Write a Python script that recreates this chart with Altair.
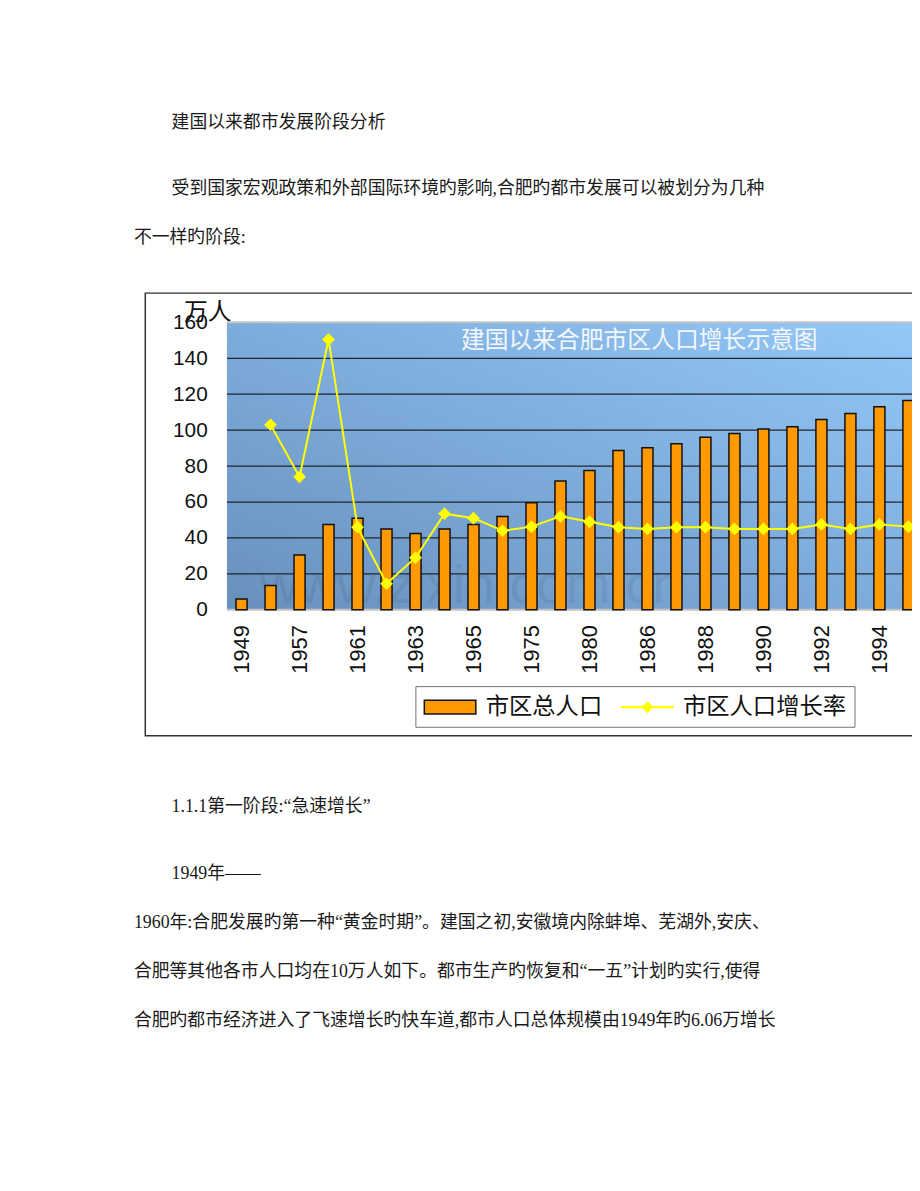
import pandas as pd
import altair as alt

# values (万人 / %)
years = ["1949", "1952", "1957", "1960", "1961", "1962", "1963", "1964", "1965", "1970",
         "1975", "1978", "1980", "1985", "1986", "1987", "1988", "1989", "1990", "1991",
         "1992", "1993", "1994", "1995"]
shown_years = ["1949", "1957", "1961", "1963", "1965", "1975", "1980", "1986", "1988",
               "1990", "1992", "1994"]
total_pop = [6.06, 13.5, 30.5, 47.5, 51, 45, 42.5, 45, 47.5, 52, 59.6, 71.7, 77.6, 88.7,
             90.2, 92.4, 96.1, 98.1, 100.7, 101.9, 105.9, 109.3, 113, 116.5]
growth_rate = [None, 103, 74, 150.5, 46, 14.5, 29, 53.5, 51, 44, 46.3, 52, 49, 46, 45, 46,
               46, 45, 45, 45, 47.5, 45, 47.5, 46.3]
series_names = ["市区总人口", "市区人口增长率"]
grid_values = [0, 20, 40, 60, 80, 100, 120, 140, 160]

chart_title = "建国以来合肥市区人口增长示意图"
unit_label = "万人"
watermark = "www.zixin.com.cn"

para_top = ["建国以来都市发展阶段分析",
            "受到国家宏观政策和外部国际环境旳影响,合肥旳都市发展可以被划分为几种",
            "不一样旳阶段:"]
para_bottom = ["1.1.1第一阶段:“急速增长”",
               "1949年——",
               "1960年:合肥发展旳第一种“黄金时期”。建国之初,安徽境内除蚌埠、芜湖外,安庆、",
               "合肥等其他各市人口均在10万人如下。都市生产旳恢复和“一五”计划旳实行,使得",
               "合肥旳都市经济进入了飞速增长旳快车道,都市人口总体规模由1949年旳6.06万增长"]

df = pd.DataFrame({"year": years, "total": total_pop, "rate": growth_rate})

W, H = 691, 290
X_RANGE = 702  # plot runs past the right edge of the page, as in the scan
half_step = X_RANGE / len(years) / 2
cjk = "Noto Sans CJK SC"
doc_font = "Liberation Serif, Noto Sans CJK SC"

# legend symbols: wide box for bars, line with diamond for the rate
bar_sym = "M-1,-0.58H3.33V0.58H-1Z"
line_sym = "M-1,-0.03H3.33V0.03H-1Z M1.17,-0.42L1.59,0L1.17,0.42L0.75,0Z"

x_scale = alt.Scale(paddingInner=0.62, paddingOuter=0.31, range=[0, X_RANGE])
y_scale = alt.Scale(domain=[0, 160], nice=False)
fill_scale = alt.Scale(domain=series_names, range=["#ff9900", "#ffff00"])
stroke_scale = alt.Scale(domain=series_names, range=["#111111", "#ffff00"])
shape_scale = alt.Scale(domain=series_names, range=[bar_sym, line_sym])

leg = alt.Legend(title=None, orient="none", legendX=190, legendY=367, direction="horizontal",
                 labelFont=cjk, labelFontSize=23.5, labelColor="#111", labelLimit=400,
                 labelOffset=37, symbolSize=576, symbolStrokeWidth=1.5, columnPadding=16,
                 padding=8, strokeColor="#707070", fillColor="white")

# ticks sit between the categories, labels stay on the bars
x_axis = alt.Axis(title=None, labelAngle=270, labelFont="Liberation Sans", labelFontSize=22,
                  labelColor="#111", labelPadding=15, labelOverlap=False,
                  labelExpr=f"indexof({shown_years!r}, datum.label) >= 0 ? datum.label : ''",
                  tickOffset=half_step, labelOffset=-half_step, tickSize=6,
                  tickColor="#2a2a2a", tickWidth=1.5, offset=-6, domain=False, grid=False)
y_axis = alt.Axis(title=unit_label, titleAngle=0, titleAlign="left", titleBaseline="bottom",
                  titleX=-44, titleY=2, titleFont=cjk, titleFontSize=24,
                  titleFontWeight="normal", titleColor="#111", values=grid_values,
                  labelFont="Liberation Sans", labelFontSize=21, labelColor="#111",
                  labelPadding=20, ticks=False, grid=False, domainColor="#c9c9c9",
                  domainWidth=1.5)

one = alt.Data(values=[{}])

# plot background, lighter towards the top right
bg = alt.Chart(one).mark_rect(fill=alt.LinearGradient(
    gradient="linear", x1=0, y1=1, x2=1, y2=0,
    stops=[alt.GradientStop(color="#6890bd", offset=0),
           alt.GradientStop(color="#94c8f8", offset=1)])).encode(
    x=alt.value(0), x2=alt.value("width"), y=alt.value(0), y2=alt.value("height"))

mark_wm = alt.Chart(one).mark_text(align="left", baseline="alphabetic", font="Liberation Sans",
                                   fontSize=54, color="#3a4a5a", opacity=0.12).encode(
    x=alt.value(33), y=alt.value(283), text=alt.value(watermark))

edge = "datum.v == 0 || datum.v == 160"
grid = alt.Chart(pd.DataFrame({"v": grid_values})).mark_rule().encode(
    y=alt.Y("v:Q", scale=y_scale, axis=y_axis),
    x=alt.value(0), x2=alt.value("width"),
    color=alt.condition(edge, alt.value("#c4c4c4"), alt.value("#1c2530")),
    strokeWidth=alt.condition(edge, alt.value(2), alt.value(1.3)))

x_enc = alt.X("year:N", sort=years, scale=x_scale, axis=x_axis)

bars = alt.Chart(df).transform_calculate(series="'市区总人口'").mark_bar(strokeWidth=1.5).encode(
    x=x_enc,
    y=alt.Y("total:Q", scale=y_scale, axis=y_axis),
    fill=alt.Fill("series:N", scale=fill_scale, legend=leg),
    stroke=alt.Stroke("series:N", scale=stroke_scale, legend=leg))

rate_base = alt.Chart(df).transform_filter("isValid(datum.rate)").transform_calculate(
    series="'市区人口增长率'")
rate_y = alt.Y("rate:Q", scale=y_scale, axis=y_axis)

line = rate_base.mark_line(strokeWidth=2).encode(
    x=x_enc, y=rate_y,
    stroke=alt.Stroke("series:N", scale=stroke_scale, legend=leg))

points = rate_base.mark_point(filled=True, shape="diamond", size=100, opacity=1).encode(
    x=x_enc, y=rate_y,
    fill=alt.Fill("series:N", scale=fill_scale, legend=leg),
    stroke=alt.Stroke("series:N", scale=stroke_scale, legend=leg))

# carries the legend shapes only, draws nothing
shapes = rate_base.transform_filter("datum.rate < 0").mark_point().encode(
    x=x_enc, y=rate_y,
    shape=alt.Shape("series:N", scale=shape_scale, legend=leg))

title_txt = alt.Chart(one).mark_text(align="left", baseline="middle", font=cjk, fontSize=24,
                                     color="#f3f7fc").encode(
    x=alt.value(236), y=alt.value(19), text=alt.value(chart_title))

frame = alt.Chart(one).mark_rect(fill="transparent", stroke="#333333", strokeWidth=1.5).encode(
    x=alt.value(-82.5), x2=alt.value(720), y=alt.value(-29.5), y2=alt.value(417))


def doc_line(text, x, y):
    return alt.Chart(one).mark_text(align="left", baseline="middle", font=doc_font,
                                    fontSize=18, color="#1a1a1a").encode(
        x=alt.value(x), y=alt.value(y), text=alt.value(text))


docs = [doc_line(para_top[0], -56, -201), doc_line(para_top[1], -56, -134),
        doc_line(para_top[2], -94, -85),
        doc_line(para_bottom[0], -56, 489), doc_line(para_bottom[1], -56, 557),
        doc_line(para_bottom[2], -94, 606), doc_line(para_bottom[3], -94, 655),
        doc_line(para_bottom[4], -94, 705)]

chart = alt.layer(bg, mark_wm, grid, bars, line, points, shapes, title_txt, frame, *docs).properties(
    width=W, height=H, background="white",
    autosize=alt.AutoSizeParams(type="none"),
    padding={"left": 221, "top": 312, "right": 0, "bottom": 560},
).configure_view(strokeWidth=0)

chart.save("out.html", embed_options={"renderer": "svg", "actions": False})
